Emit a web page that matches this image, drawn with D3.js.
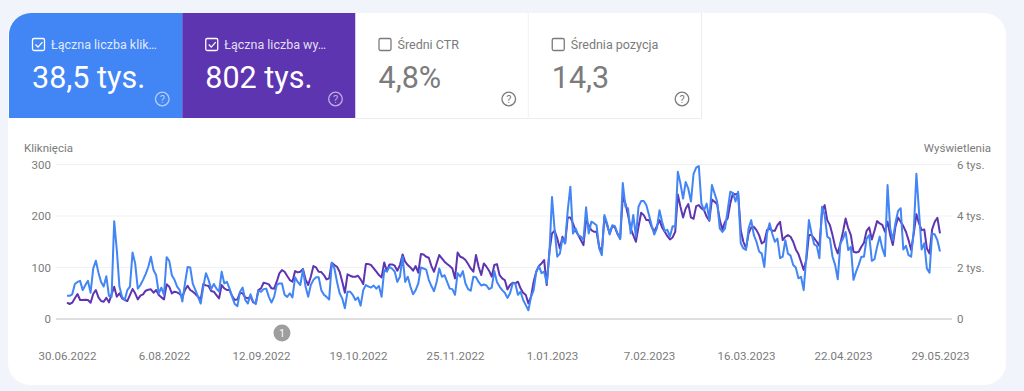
<!DOCTYPE html>
<html>
<head>
<meta charset="utf-8">
<script src="https://cdn.jsdelivr.net/npm/d3@7"></script>
<style>
    html, body { margin: 0; padding: 0; background: #f2f4fc; }
    svg { display: block; font-family: Roboto, sans-serif; }
    .x-axis path, .x-axis line, .y-axis path, .y-axis line { display: none; }
</style>
</head>
<body>
<svg id="chart" width="1024" height="391"></svg>
<script>
// tiles above the chart
const tileLabels = ["Łączna liczba klik…", "Łączna liczba wy…", "Średni CTR", "Średnia pozycja"];
const tileValues = ["38,5 tys.", "802 tys.", "4,8%", "14,3"];
const tileChecked = [true, true, false, false];

// axes
const clickTicks = [0, 100, 200, 300];
const impressionTicks = [0, 2000, 4000, 6000];
const dateTicks = ["2022-06-30", "2022-08-06", "2022-09-12", "2022-10-19", "2022-11-25", "2023-01-01",
    "2023-02-07", "2023-03-16", "2023-04-22", "2023-05-29"];
const startDate = "2022-06-30";
const annotationDate = "2022-09-20";

// daily clicks, first day is 30.06.2022
const clicks = [45, 45, 48, 68, 72, 74, 56, 66, 74, 51, 98, 113, 90, 72, 63, 83, 45, 43, 190, 134,
    63, 43, 37, 56, 63, 129, 108, 59, 66, 76, 87, 101, 121, 95, 85, 50, 61, 47, 120, 113,
    85, 76, 63, 56, 34, 69, 101, 100, 68, 56, 43, 30, 63, 89, 76, 58, 68, 59, 53, 92,
    69, 72, 59, 43, 29, 25, 53, 61, 37, 30, 48, 34, 29, 55, 53, 58, 59, 43, 32, 43,
    66, 69, 69, 47, 43, 50, 42, 81, 72, 66, 96, 63, 43, 66, 76, 81, 81, 56, 47, 43,
    38, 109, 98, 72, 50, 40, 21, 53, 53, 47, 37, 42, 26, 56, 66, 63, 61, 65, 59, 64,
    43, 95, 92, 101, 98, 92, 72, 82, 121, 72, 82, 63, 48, 56, 69, 100, 98, 96, 76, 64,
    54, 72, 98, 82, 85, 72, 59, 58, 47, 89, 82, 93, 69, 58, 55, 82, 81, 72, 65, 67,
    65, 58, 61, 93, 72, 63, 56, 51, 41, 50, 69, 69, 47, 53, 37, 27, 17, 43, 56, 92,
    103, 89, 92, 69, 127, 237, 173, 121, 127, 156, 147, 211, 257, 166, 176, 163, 160, 153, 217, 166,
    189, 186, 182, 137, 124, 202, 186, 164, 182, 180, 166, 155, 264, 218, 215, 166, 202, 160, 218, 229,
    229, 221, 202, 182, 164, 176, 211, 189, 171, 173, 160, 180, 179, 286, 263, 234, 266, 253, 228, 282,
    294, 297, 224, 211, 224, 192, 260, 244, 228, 176, 169, 176, 211, 247, 245, 228, 247, 147, 137, 134,
    176, 192, 163, 150, 131, 127, 101, 166, 186, 166, 150, 156, 118, 121, 153, 127, 123, 105, 100, 79,
    82, 56, 121, 192, 166, 145, 142, 118, 218, 202, 160, 156, 121, 105, 77, 147, 156, 169, 134, 140,
    76, 92, 105, 121, 121, 156, 163, 113, 116, 140, 160, 137, 122, 260, 176, 153, 186, 210, 215, 135,
    142, 124, 121, 173, 282, 208, 135, 147, 98, 90, 166, 164, 153, 131];

// daily impressions, same days
const impressions = [634, 582, 634, 802, 970, 737, 737, 750, 737, 634, 970, 1125, 840, 698, 672, 828, 646, 957, 1254, 866,
    996, 802, 737, 698, 931, 1164, 996, 763, 905, 957, 1099, 1138, 1151, 1021, 1125, 931, 840, 763, 1345, 1254,
    996, 1060, 1034, 970, 866, 1125, 1293, 1125, 1060, 970, 866, 763, 1358, 1306, 1280, 1086, 1060, 931, 802, 1319,
    1190, 1125, 1125, 892, 737, 763, 1021, 996, 840, 802, 866, 646, 608, 1125, 1190, 1409, 1384, 1345, 1190, 1177,
    1448, 1771, 1901, 1836, 1668, 1513, 1448, 1862, 1810, 1836, 1940, 1539, 1319, 1642, 2056, 2004, 1836, 1823, 1707, 1539,
    1577, 2185, 2095, 2030, 1836, 1448, 1021, 1733, 1681, 1642, 1642, 1681, 1539, 1358, 2133, 2133, 2095, 1965, 1836, 1707,
    1616, 2198, 1862, 2120, 2120, 2069, 1875, 2095, 2508, 2224, 2095, 2004, 1875, 2056, 1797, 2521, 2508, 2418, 2379, 2056,
    1836, 2159, 2483, 2353, 2224, 2133, 2056, 1965, 1577, 2586, 2418, 2379, 2289, 2133, 1965, 1836, 2483, 2030, 1707, 2159,
    2030, 1875, 1642, 2095, 2133, 1707, 1577, 1513, 1151, 1319, 1409, 1384, 1448, 1190, 1021, 931, 608, 866, 1448, 1836,
    2056, 2159, 2289, 1319, 2612, 3323, 3426, 3129, 2741, 3194, 2935, 3944, 3944, 3711, 3426, 3258, 3064, 2870, 3840, 3646,
    3452, 3388, 3388, 2806, 2612, 3970, 3646, 3323, 3607, 3556, 3297, 3129, 4745, 4487, 4034, 3517, 3258, 3000, 3582, 4125,
    4034, 3840, 3840, 3582, 3388, 3607, 3840, 3556, 3388, 3220, 3090, 3168, 3388, 4836, 4357, 3944, 4293, 4461, 3944, 3892,
    4383, 4422, 4293, 4228, 3970, 3814, 4642, 4551, 4461, 3840, 3478, 3776, 3905, 4487, 4875, 4836, 4875, 3452, 3000, 2741,
    3323, 3556, 3582, 3452, 3258, 2935, 3000, 3452, 3517, 3426, 3426, 3646, 3776, 3064, 3194, 3258, 3194, 3000, 2702, 2521,
    2224, 1901, 2289, 3258, 3258, 3129, 3000, 2832, 4163, 4422, 3840, 3646, 3258, 2806, 2547, 2935, 3388, 3905, 3517, 3258,
    2612, 2586, 2612, 2806, 2961, 3426, 3556, 3090, 3426, 3801, 3711, 3659, 3388, 3776, 3258, 2870, 3582, 3944, 3776, 3607,
    3388, 3064, 2676, 3323, 4073, 3711, 3452, 3478, 2741, 2547, 3478, 3776, 3931, 3323];

const clickColor = "#4285f4";
const impressionColor = "#5e35b1";
const textColor = "#7b7b7b";

let svg = d3.select("#chart");
let parseDay = d3.utcParse("%Y-%m-%d");
let formatDay = d3.utcFormat("%-d.%m.%Y");

// white card
svg.append("rect")
    .attr("x", 8)
    .attr("y", 13)
    .attr("width", 998)
    .attr("height", 372)
    .attr("rx", 22)
    .style("fill", "#fff");

// tiles
let tileX = d3.scaleBand()
    .domain(d3.range(tileLabels.length))
    .range([9, 702]);

let tileFill = [clickColor, impressionColor, "#fff", "#fff"];

let tile = svg.selectAll(".tile")
    .data(tileLabels)
    .join("g")
    .attr("class", "tile")
    .attr("transform", (d, i) => `translate(${tileX(i)}, 13)`);

tile.append("path")
    .attr("d", (d, i) => {
        let w = tileX.bandwidth();
        if (i == 0) return `M0,105V22A22,22 0 0 1 22,0H${w}V105Z`;
        return `M0,0H${w}V105H0Z`;
    })
    .style("fill", (d, i) => tileFill[i]);

// hairlines around the two empty tiles
tile.filter((d, i) => i >= 2).append("path")
    .attr("d", `M${tileX.bandwidth() - 0.5},0V105.5H0`)
    .style("fill", "none")
    .style("stroke", "#ececec");

let tileText = (d, i) => tileChecked[i] ? "#fff" : textColor;

tile.append("rect")
    .attr("x", 23.5)
    .attr("y", 25.5)
    .attr("width", 12)
    .attr("height", 12)
    .attr("rx", 1.5)
    .style("fill", "none")
    .style("stroke", tileText)
    .style("stroke-width", 1.3);

tile.filter((d, i) => tileChecked[i]).append("path")
    .attr("d", "M26.5,31.5l2.5,2.6l4.5,-5")
    .style("fill", "none")
    .style("stroke", "#fff")
    .style("stroke-width", 1.3);

tile.append("text")
    .attr("x", 42)
    .attr("y", 36)
    .style("font-size", "12.5px")
    .style("fill", tileText)
    .style("fill-opacity", (d, i) => tileChecked[i] ? 0.85 : 1)
    .text(d => d);

tile.append("text")
    .attr("x", 23)
    .attr("y", 75)
    .style("font-size", "30.5px")
    .style("fill", tileText)
    .text((d, i) => tileValues[i]);

// question mark icons
tile.append("circle")
    .attr("cx", (d, i) => tileX.bandwidth() - 20)
    .attr("cy", 86)
    .attr("r", 6.8)
    .style("fill", "none")
    .style("stroke", tileText)
    .style("stroke-opacity", (d, i) => tileChecked[i] ? 0.6 : 1)
    .style("stroke-width", 1.3);

tile.append("text")
    .attr("x", (d, i) => tileX.bandwidth() - 20)
    .attr("y", 90)
    .attr("text-anchor", "middle")
    .style("font-size", "11px")
    .style("fill", tileText)
    .style("fill-opacity", (d, i) => tileChecked[i] ? 0.6 : 1)
    .text("?");

// scales
let days = clicks.map((d, i) => d3.utcDay.offset(parseDay(startDate), i));

let xScale = d3.scaleUtc()
    .domain([days[0], days[days.length - 1]])
    .range([67, 940]);

let yClicks = d3.scaleLinear()
    .domain([0, 300])
    .range([319, 164.5]);

let yImpressions = d3.scaleLinear()
    .domain([0, 6000])
    .range([319, 164.5]);

// gridlines
svg.append("g")
    .selectAll("line")
    .data(clickTicks)
    .join("line")
    .attr("x1", 56)
    .attr("x2", 952)
    .attr("y1", d => yClicks(d))
    .attr("y2", d => yClicks(d))
    .style("stroke", d => d == 0 ? "#bdbdbd" : "#f1f1f1")
    .style("stroke-width", d => d == 0 ? 1 : 1.2);

// axes
svg.append("g")
    .attr("class", "y-axis")
    .attr("transform", "translate(51, 0)")
    .call(d3.axisLeft(yClicks).tickValues(clickTicks).tickSize(0).tickPadding(0))
    .call(g => g.selectAll("text").style("font-size", "11.5px").style("font-family", "Roboto").style("fill", textColor));

svg.append("g")
    .attr("class", "y-axis")
    .attr("transform", "translate(957, 0)")
    .call(d3.axisRight(yImpressions).tickValues(impressionTicks).tickSize(0).tickPadding(0)
        .tickFormat(d => d == 0 ? "0" : (d / 1000) + " tys."))
    .call(g => g.selectAll("text").style("font-size", "11.5px").style("font-family", "Roboto").style("fill", textColor));

svg.append("g")
    .attr("class", "x-axis")
    .attr("transform", "translate(0, 352)")
    .call(d3.axisBottom(xScale).tickValues(dateTicks.map(parseDay)).tickSize(0).tickPadding(0).tickFormat(formatDay))
    .call(g => g.selectAll("text").style("font-size", "11.5px").style("font-family", "Roboto").style("fill", textColor));

svg.append("text")
    .attr("x", 24)
    .attr("y", 152)
    .style("font-size", "11.5px")
    .style("fill", textColor)
    .text("Kliknięcia");

svg.append("text")
    .attr("x", 991)
    .attr("y", 152)
    .attr("text-anchor", "end")
    .style("font-size", "11.5px")
    .style("fill", textColor)
    .text("Wyświetlenia");

// lines, clicks go on top
svg.append("path")
    .datum(impressions)
    .attr("fill", "none")
    .attr("stroke", impressionColor)
    .attr("stroke-width", 2)
    .attr("stroke-linejoin", "round")
    .attr("d", d3.line()
        .x((d, i) => xScale(days[i]))
        .y(d => yImpressions(d)));

svg.append("path")
    .datum(clicks)
    .attr("fill", "none")
    .attr("stroke", clickColor)
    .attr("stroke-width", 2)
    .attr("stroke-linejoin", "round")
    .attr("d", d3.line()
        .x((d, i) => xScale(days[i]))
        .y(d => yClicks(d)));

// annotation marker
let marker = svg.append("g")
    .attr("transform", `translate(${xScale(parseDay(annotationDate))}, 333)`);

marker.append("circle")
    .attr("r", 8.5)
    .style("fill", "#9e9e9e");

marker.append("text")
    .attr("y", 3.5)
    .attr("text-anchor", "middle")
    .style("font-size", "10px")
    .style("fill", "#fff")
    .text("1");
</script>
</body>
</html>
